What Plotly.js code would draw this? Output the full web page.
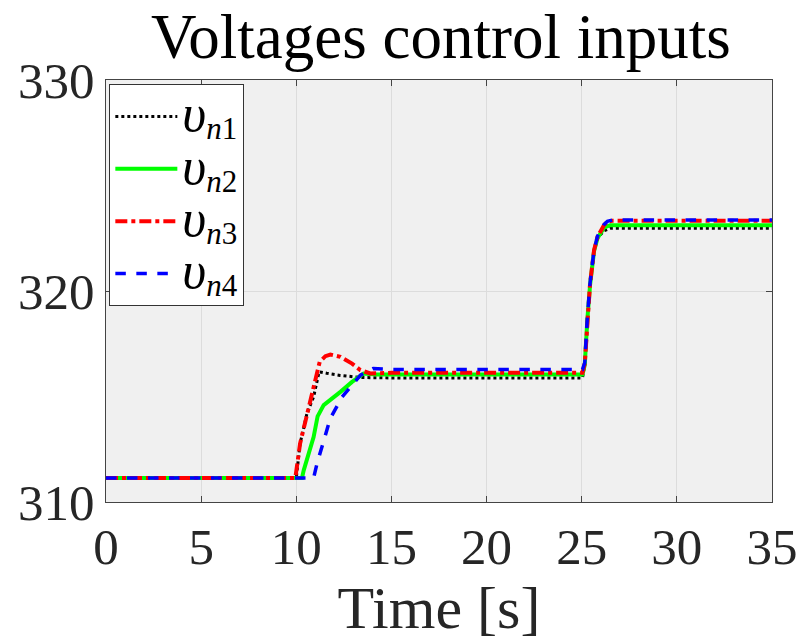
<!DOCTYPE html>
<html>
<head>
<meta charset="utf-8">
<script src="https://cdn.plot.ly/plotly-3.0.1.min.js"></script>
<style>html,body{margin:0;padding:0;background:#fff;}#chart{width:800px;height:642px;}</style>
</head>
<body>
<div id="chart"></div>
<script>
// Data
const t1 = [0, 10.0, 10.2, 10.56, 10.91, 11.2, 11.6, 12.3, 13.4, 15, 25.04, 25.16, 25.3, 25.44, 25.65, 25.83, 26.17, 26.5, 35];
const vn1 = [311.14, 311.14, 312.77, 314.19, 314.98, 316.17, 316.1, 316.0, 315.9, 315.88, 315.88, 316.5, 318.7, 320.3, 321.9, 322.5, 322.85, 322.97, 322.97];

const t2 = [0, 10.3, 10.39, 10.91, 11.12, 11.44, 12.32, 12.93, 13.54, 14.2, 25.04, 25.16, 25.3, 25.44, 25.65, 25.83, 26.17, 26.5, 35];
const vn2 = [311.14, 311.14, 311.5, 313.08, 314.06, 314.59, 315.22, 315.69, 316.09, 316.04, 316.04, 316.5, 318.7, 320.3, 321.9, 322.5, 323.0, 323.12, 323.12];

const t3 = [0, 9.95, 10.2, 10.56, 11.0, 11.23, 11.53, 11.79, 12.32, 12.93, 13.37, 13.89, 15, 25.04, 25.16, 25.3, 25.44, 25.65, 25.83, 26.17, 26.35, 26.6, 35];
const vn3 = [311.14, 311.14, 312.77, 314.19, 315.77, 316.64, 316.91, 316.99, 316.88, 316.56, 316.25, 316.09, 316.12, 316.12, 316.56, 318.77, 320.36, 321.94, 322.57, 323.12, 323.28, 323.33, 323.33];

const t4 = [0, 10.91, 11.09, 11.79, 12.41, 13.37, 14.05, 15, 25.04, 25.16, 25.3, 25.44, 25.65, 25.83, 26.17, 26.35, 26.6, 35];
const vn4 = [311.14, 311.14, 311.82, 313.97, 314.98, 316.01, 316.33, 316.28, 316.28, 316.6, 318.8, 320.4, 321.94, 322.6, 323.15, 323.3, 323.36, 323.36];

const UPS = '<span style="font-style:italic;font-size:52px">υ</span>';
const names = [1, 2, 3, 4].map(function (k) {
  return UPS + '<sub><span style="font-size:31px"><i>n</i>' + k + '</span></sub>';
});
const xTicks = [0, 5, 10, 15, 20, 25, 30, 35];
const yTicks = [310, 320, 330];

const FONT = "'Liberation Serif', 'Times New Roman', serif";

const traces = [
  {x: t1, y: vn1, name: names[0], mode: 'lines', line: {color: '#000000', width: 3, dash: 'dot'}},
  {x: t2, y: vn2, name: names[1], mode: 'lines', line: {color: '#00ff00', width: 4, dash: 'solid'}},
  {x: t3, y: vn3, name: names[2], mode: 'lines', line: {color: '#ff0000', width: 4, dash: 'dashdot'}},
  {x: t4, y: vn4, name: names[3], mode: 'lines', line: {color: '#0000ff', width: 3.5, dash: 'dash'}}
];

const axisCommon = {
  showline: true, mirror: 'ticks', linecolor: '#444444', linewidth: 1.2,
  ticks: 'inside', ticklen: 6, tickcolor: '#444444',
  showgrid: true, gridcolor: '#dcdcdc', gridwidth: 1, zeroline: false,
  tickfont: {family: FONT, size: 51, color: '#262626'}
};

const layout = {
  width: 800, height: 642,
  margin: {l: 106, r: 28, t: 80, b: 140, pad: 0},
  paper_bgcolor: '#ffffff', plot_bgcolor: '#f0f0f0',
  title: {text: 'Voltages control inputs', font: {family: FONT, size: 63, color: '#000000'}, x: 0.551, xanchor: 'center', y: 0.978, yanchor: 'top'},
  xaxis: Object.assign({}, axisCommon, {
    range: [0, 35], tickvals: xTicks, ticktext: xTicks.map(String),
    title: {text: 'Time [s]', font: {family: FONT, size: 60, color: '#262626'}, standoff: 8}
  }),
  yaxis: Object.assign({}, axisCommon, {
    range: [310, 330], tickvals: yTicks, ticktext: yTicks.map(String), ticksuffix: ' '
  }),
  showlegend: true,
  legend: {
    x: 0.005, y: 0.99, xanchor: 'left', yanchor: 'top',
    bgcolor: '#ffffff', bordercolor: '#333333', borderwidth: 1,
    font: {family: FONT, size: 38, color: '#000000'},
    tracegroupgap: 0, itemwidth: 62
  }
};

Plotly.newPlot('chart', traces, layout, {displayModeBar: false, staticPlot: true}).then(function (gd) {
  // lengthen legend line samples to match the reference
  gd.querySelectorAll('.legend .legendlines path').forEach(function (p) {
    p.setAttribute('d', 'M5,0h62');
  });
});
</script>
</body>
</html>
